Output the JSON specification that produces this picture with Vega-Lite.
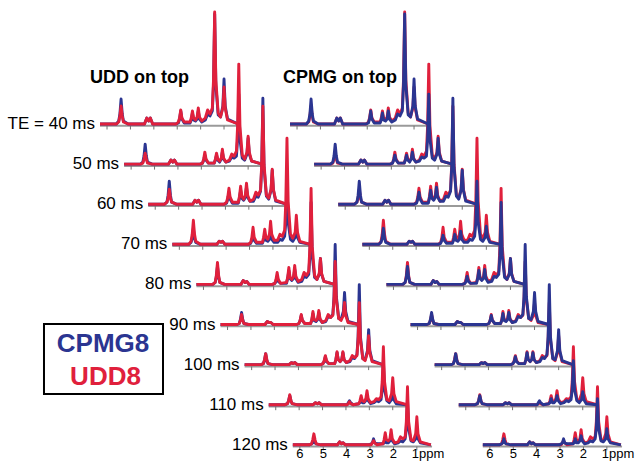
{
"$schema":"https://vega.github.io/schema/vega-lite/v6.json",
"width":635,"height":461,"padding":0,"autosize":"none","background":"white",
"config":{"view":{"stroke":null},"text":{"font":"Liberation Sans"}},
"datasets":{
"traces":[{"t":40,"label":"TE = 40 ms"},{"t":50,"label":"50 ms"},{"t":60,"label":"60 ms"},{"t":70,"label":"70 ms"},{"t":80,"label":"80 ms"},{"t":90,"label":"90 ms"},{"t":100,"label":"100 ms"},{"t":110,"label":"110 ms"},{"t":120,"label":"120 ms"}],
"ticks":[
{"t":40,"p":6},{"t":40,"p":5},{"t":40,"p":4},{"t":40,"p":3},{"t":40,"p":2},{"t":40,"p":1},
{"t":50,"p":6},{"t":50,"p":5},{"t":50,"p":4},{"t":50,"p":3},{"t":50,"p":2},{"t":50,"p":1},
{"t":60,"p":6},{"t":60,"p":5},{"t":60,"p":4},{"t":60,"p":3},{"t":60,"p":2},{"t":60,"p":1},
{"t":70,"p":6},{"t":70,"p":5},{"t":70,"p":4},{"t":70,"p":3},{"t":70,"p":2},{"t":70,"p":1},
{"t":80,"p":6},{"t":80,"p":5},{"t":80,"p":4},{"t":80,"p":3},{"t":80,"p":2},{"t":80,"p":1},
{"t":90,"p":6},{"t":90,"p":5},{"t":90,"p":4},{"t":90,"p":3},{"t":90,"p":2},{"t":90,"p":1},
{"t":100,"p":6},{"t":100,"p":5},{"t":100,"p":4},{"t":100,"p":3},{"t":100,"p":2},{"t":100,"p":1},
{"t":110,"p":6},{"t":110,"p":5},{"t":110,"p":4},{"t":110,"p":3},{"t":110,"p":2},{"t":110,"p":1},
{"t":120,"p":6},{"t":120,"p":5},{"t":120,"p":4},{"t":120,"p":3},{"t":120,"p":2},{"t":120,"p":1}],
"spec":[
{"t":40,"p":6.3,"c":0,"u":0},{"t":40,"p":5.6,"c":0,"u":0},{"t":40,"p":5.5,"c":3,"u":2},{"t":40,"p":5.45,"c":10,"u":8},{"t":40,"p":5.4,"c":25,"u":18},{"t":40,"p":5.35,"c":10,"u":8},{"t":40,"p":5.3,"c":3,"u":2},{"t":40,"p":5.1,"c":0,"u":0},{"t":40,"p":4.4,"c":0,"u":0},{"t":40,"p":4.3,"c":6,"u":6},{"t":40,"p":4.22,"c":3,"u":3},{"t":40,"p":4.15,"c":6,"u":6},{"t":40,"p":4.05,"c":0,"u":0},{"t":40,"p":3.05,"c":0,"u":0},{"t":40,"p":2.95,"c":1,"u":2},{"t":40,"p":2.9,"c":5,"u":6},{"t":40,"p":2.85,"c":13,"u":14},{"t":40,"p":2.8,"c":5,"u":6},{"t":40,"p":2.7,"c":1,"u":2},{"t":40,"p":2.45,"c":1,"u":2},{"t":40,"p":2.4,"c":4,"u":6},{"t":40,"p":2.35,"c":11,"u":13},{"t":40,"p":2.3,"c":4,"u":6},{"t":40,"p":2.22,"c":3,"u":4},{"t":40,"p":2.15,"c":5,"u":7},{"t":40,"p":2.1,"c":13,"u":16},{"t":40,"p":2.05,"c":5,"u":7},{"t":40,"p":1.95,"c":2,"u":3},{"t":40,"p":1.8,"c":4,"u":6},{"t":40,"p":1.7,"c":10,"u":14},{"t":40,"p":1.6,"c":8,"u":10},{"t":40,"p":1.5,"c":13,"u":16},{"t":40,"p":1.45,"c":39,"u":44},{"t":40,"p":1.4,"c":110,"u":112},{"t":40,"p":1.35,"c":39,"u":44},{"t":40,"p":1.25,"c":9,"u":11},{"t":40,"p":1.15,"c":7,"u":7},{"t":40,"p":1.05,"c":18,"u":16},{"t":40,"p":1.0,"c":45,"u":37},{"t":40,"p":0.95,"c":18,"u":16},{"t":40,"p":0.85,"c":5,"u":4},{"t":40,"p":0.4,"c":0,"u":0},
{"t":50,"p":6.3,"c":0,"u":0},{"t":50,"p":5.6,"c":0,"u":0},{"t":50,"p":5.5,"c":2,"u":1},{"t":50,"p":5.45,"c":8,"u":5},{"t":50,"p":5.4,"c":20,"u":11},{"t":50,"p":5.35,"c":8,"u":5},{"t":50,"p":5.3,"c":2,"u":1},{"t":50,"p":5.1,"c":0,"u":0},{"t":50,"p":4.4,"c":0,"u":0},{"t":50,"p":4.3,"c":4,"u":4},{"t":50,"p":4.22,"c":2,"u":2},{"t":50,"p":4.15,"c":4,"u":4},{"t":50,"p":4.05,"c":0,"u":0},{"t":50,"p":3.05,"c":0,"u":0},{"t":50,"p":2.95,"c":1,"u":1},{"t":50,"p":2.9,"c":4,"u":5},{"t":50,"p":2.85,"c":9,"u":12},{"t":50,"p":2.8,"c":4,"u":5},{"t":50,"p":2.7,"c":1,"u":1},{"t":50,"p":2.45,"c":1,"u":1},{"t":50,"p":2.4,"c":4,"u":5},{"t":50,"p":2.35,"c":9,"u":11},{"t":50,"p":2.3,"c":4,"u":5},{"t":50,"p":2.22,"c":2,"u":3},{"t":50,"p":2.15,"c":5,"u":6},{"t":50,"p":2.1,"c":12,"u":15},{"t":50,"p":2.05,"c":5,"u":6},{"t":50,"p":1.95,"c":2,"u":2},{"t":50,"p":1.8,"c":3,"u":4},{"t":50,"p":1.7,"c":7,"u":10},{"t":50,"p":1.6,"c":6,"u":8},{"t":50,"p":1.5,"c":8,"u":13},{"t":50,"p":1.45,"c":25,"u":38},{"t":50,"p":1.4,"c":70,"u":100},{"t":50,"p":1.35,"c":25,"u":38},{"t":50,"p":1.25,"c":6,"u":9},{"t":50,"p":1.15,"c":4,"u":5},{"t":50,"p":1.05,"c":10,"u":12},{"t":50,"p":1.0,"c":26,"u":28},{"t":50,"p":0.95,"c":10,"u":12},{"t":50,"p":0.85,"c":3,"u":3},{"t":50,"p":0.4,"c":0,"u":0},
{"t":60,"p":6.3,"c":0,"u":0},{"t":60,"p":5.6,"c":0,"u":0},{"t":60,"p":5.5,"c":2,"u":2},{"t":60,"p":5.45,"c":9,"u":6},{"t":60,"p":5.4,"c":23,"u":15},{"t":60,"p":5.35,"c":9,"u":6},{"t":60,"p":5.3,"c":2,"u":2},{"t":60,"p":5.1,"c":0,"u":0},{"t":60,"p":4.4,"c":0,"u":0},{"t":60,"p":4.3,"c":4,"u":4},{"t":60,"p":4.22,"c":2,"u":2},{"t":60,"p":4.15,"c":4,"u":4},{"t":60,"p":4.05,"c":0,"u":0},{"t":60,"p":3.05,"c":0,"u":0},{"t":60,"p":2.95,"c":1,"u":2},{"t":60,"p":2.9,"c":5,"u":7},{"t":60,"p":2.85,"c":12,"u":16},{"t":60,"p":2.8,"c":5,"u":7},{"t":60,"p":2.7,"c":1,"u":2},{"t":60,"p":2.45,"c":1,"u":2},{"t":60,"p":2.4,"c":6,"u":8},{"t":60,"p":2.35,"c":14,"u":18},{"t":60,"p":2.3,"c":6,"u":8},{"t":60,"p":2.22,"c":4,"u":5},{"t":60,"p":2.15,"c":7,"u":9},{"t":60,"p":2.1,"c":17,"u":21},{"t":60,"p":2.05,"c":7,"u":9},{"t":60,"p":1.95,"c":3,"u":3},{"t":60,"p":1.8,"c":3,"u":5},{"t":60,"p":1.7,"c":8,"u":12},{"t":60,"p":1.6,"c":7,"u":9},{"t":60,"p":1.5,"c":13,"u":14},{"t":60,"p":1.45,"c":37,"u":40},{"t":60,"p":1.4,"c":106,"u":98},{"t":60,"p":1.35,"c":37,"u":40},{"t":60,"p":1.25,"c":8,"u":9},{"t":60,"p":1.15,"c":5,"u":6},{"t":60,"p":1.05,"c":14,"u":15},{"t":60,"p":1.0,"c":34,"u":35},{"t":60,"p":0.95,"c":14,"u":15},{"t":60,"p":0.85,"c":3,"u":4},{"t":60,"p":0.4,"c":0,"u":0},
{"t":70,"p":6.3,"c":0,"u":0},{"t":70,"p":5.6,"c":0,"u":0},{"t":70,"p":5.5,"c":2,"u":3},{"t":70,"p":5.45,"c":6,"u":10},{"t":70,"p":5.4,"c":16,"u":24},{"t":70,"p":5.35,"c":6,"u":10},{"t":70,"p":5.3,"c":2,"u":3},{"t":70,"p":5.1,"c":0,"u":0},{"t":70,"p":4.4,"c":0,"u":0},{"t":70,"p":4.3,"c":3,"u":3},{"t":70,"p":4.22,"c":2,"u":2},{"t":70,"p":4.15,"c":3,"u":3},{"t":70,"p":4.05,"c":0,"u":0},{"t":70,"p":3.05,"c":0,"u":0},{"t":70,"p":2.95,"c":1,"u":2},{"t":70,"p":2.9,"c":4,"u":7},{"t":70,"p":2.85,"c":9,"u":17},{"t":70,"p":2.8,"c":4,"u":7},{"t":70,"p":2.7,"c":1,"u":2},{"t":70,"p":2.45,"c":1,"u":2},{"t":70,"p":2.4,"c":4,"u":7},{"t":70,"p":2.35,"c":10,"u":15},{"t":70,"p":2.3,"c":4,"u":7},{"t":70,"p":2.22,"c":3,"u":5},{"t":70,"p":2.15,"c":5,"u":10},{"t":70,"p":2.1,"c":13,"u":23},{"t":70,"p":2.05,"c":5,"u":10},{"t":70,"p":1.95,"c":2,"u":4},{"t":70,"p":1.8,"c":2,"u":4},{"t":70,"p":1.7,"c":5,"u":10},{"t":70,"p":1.6,"c":4,"u":8},{"t":70,"p":1.5,"c":8,"u":14},{"t":70,"p":1.45,"c":22,"u":43},{"t":70,"p":1.4,"c":63,"u":106},{"t":70,"p":1.35,"c":22,"u":43},{"t":70,"p":1.25,"c":5,"u":10},{"t":70,"p":1.15,"c":3,"u":6},{"t":70,"p":1.05,"c":7,"u":12},{"t":70,"p":1.0,"c":18,"u":29},{"t":70,"p":0.95,"c":7,"u":12},{"t":70,"p":0.85,"c":2,"u":3},{"t":70,"p":0.4,"c":0,"u":0},
{"t":80,"p":6.3,"c":0,"u":0},{"t":80,"p":5.6,"c":0,"u":0},{"t":80,"p":5.5,"c":2,"u":2},{"t":80,"p":5.45,"c":7,"u":9},{"t":80,"p":5.4,"c":18,"u":22},{"t":80,"p":5.35,"c":7,"u":9},{"t":80,"p":5.3,"c":2,"u":2},{"t":80,"p":5.1,"c":0,"u":0},{"t":80,"p":4.4,"c":0,"u":0},{"t":80,"p":4.3,"c":4,"u":4},{"t":80,"p":4.22,"c":2,"u":2},{"t":80,"p":4.15,"c":3,"u":3},{"t":80,"p":4.05,"c":0,"u":0},{"t":80,"p":3.05,"c":0,"u":0},{"t":80,"p":2.95,"c":1,"u":1},{"t":80,"p":2.9,"c":3,"u":5},{"t":80,"p":2.85,"c":8,"u":12},{"t":80,"p":2.8,"c":3,"u":5},{"t":80,"p":2.7,"c":1,"u":1},{"t":80,"p":2.45,"c":1,"u":2},{"t":80,"p":2.4,"c":6,"u":7},{"t":80,"p":2.35,"c":14,"u":17},{"t":80,"p":2.3,"c":6,"u":7},{"t":80,"p":2.22,"c":4,"u":5},{"t":80,"p":2.15,"c":6,"u":8},{"t":80,"p":2.1,"c":15,"u":19},{"t":80,"p":2.05,"c":6,"u":8},{"t":80,"p":1.95,"c":2,"u":3},{"t":80,"p":1.8,"c":3,"u":5},{"t":80,"p":1.7,"c":8,"u":12},{"t":80,"p":1.6,"c":7,"u":9},{"t":80,"p":1.5,"c":10,"u":13},{"t":80,"p":1.45,"c":29,"u":38},{"t":80,"p":1.4,"c":82,"u":96},{"t":80,"p":1.35,"c":29,"u":38},{"t":80,"p":1.25,"c":7,"u":9},{"t":80,"p":1.15,"c":5,"u":5},{"t":80,"p":1.05,"c":10,"u":11},{"t":80,"p":1.0,"c":26,"u":26},{"t":80,"p":0.95,"c":10,"u":11},{"t":80,"p":0.85,"c":3,"u":3},{"t":80,"p":0.4,"c":0,"u":0},
{"t":90,"p":6.3,"c":0,"u":0},{"t":90,"p":5.6,"c":0,"u":0},{"t":90,"p":5.5,"c":1,"u":1},{"t":90,"p":5.45,"c":5,"u":4},{"t":90,"p":5.4,"c":12,"u":10},{"t":90,"p":5.35,"c":5,"u":4},{"t":90,"p":5.3,"c":1,"u":1},{"t":90,"p":5.1,"c":0,"u":0},{"t":90,"p":4.4,"c":0,"u":0},{"t":90,"p":4.3,"c":3,"u":3},{"t":90,"p":4.22,"c":2,"u":2},{"t":90,"p":4.15,"c":2,"u":2},{"t":90,"p":4.05,"c":0,"u":0},{"t":90,"p":3.05,"c":0,"u":0},{"t":90,"p":2.95,"c":1,"u":1},{"t":90,"p":2.9,"c":4,"u":4},{"t":90,"p":2.85,"c":9,"u":10},{"t":90,"p":2.8,"c":4,"u":4},{"t":90,"p":2.7,"c":1,"u":1},{"t":90,"p":2.45,"c":1,"u":1},{"t":90,"p":2.4,"c":4,"u":5},{"t":90,"p":2.35,"c":11,"u":13},{"t":90,"p":2.3,"c":4,"u":5},{"t":90,"p":2.22,"c":3,"u":4},{"t":90,"p":2.15,"c":5,"u":6},{"t":90,"p":2.1,"c":12,"u":14},{"t":90,"p":2.05,"c":5,"u":6},{"t":90,"p":1.95,"c":2,"u":2},{"t":90,"p":1.8,"c":3,"u":4},{"t":90,"p":1.7,"c":8,"u":10},{"t":90,"p":1.6,"c":7,"u":7},{"t":90,"p":1.5,"c":10,"u":9},{"t":90,"p":1.45,"c":28,"u":25},{"t":90,"p":1.4,"c":80,"u":63},{"t":90,"p":1.35,"c":28,"u":25},{"t":90,"p":1.25,"c":6,"u":6},{"t":90,"p":1.15,"c":5,"u":4},{"t":90,"p":1.05,"c":13,"u":9},{"t":90,"p":1.0,"c":32,"u":22},{"t":90,"p":0.95,"c":13,"u":9},{"t":90,"p":0.85,"c":3,"u":2},{"t":90,"p":0.4,"c":0,"u":0},
{"t":100,"p":6.3,"c":0,"u":0},{"t":100,"p":5.6,"c":0,"u":0},{"t":100,"p":5.5,"c":1,"u":1},{"t":100,"p":5.45,"c":4,"u":5},{"t":100,"p":5.4,"c":11,"u":11},{"t":100,"p":5.35,"c":4,"u":5},{"t":100,"p":5.3,"c":1,"u":1},{"t":100,"p":5.1,"c":0,"u":0},{"t":100,"p":4.4,"c":0,"u":0},{"t":100,"p":4.3,"c":2,"u":2},{"t":100,"p":4.22,"c":1,"u":1},{"t":100,"p":4.15,"c":2,"u":2},{"t":100,"p":4.05,"c":0,"u":0},{"t":100,"p":3.05,"c":0,"u":0},{"t":100,"p":2.95,"c":1,"u":1},{"t":100,"p":2.9,"c":3,"u":4},{"t":100,"p":2.85,"c":8,"u":9},{"t":100,"p":2.8,"c":3,"u":4},{"t":100,"p":2.7,"c":1,"u":1},{"t":100,"p":2.45,"c":1,"u":1},{"t":100,"p":2.4,"c":5,"u":5},{"t":100,"p":2.35,"c":12,"u":13},{"t":100,"p":2.3,"c":5,"u":5},{"t":100,"p":2.22,"c":3,"u":3},{"t":100,"p":2.15,"c":5,"u":5},{"t":100,"p":2.1,"c":12,"u":13},{"t":100,"p":2.05,"c":5,"u":5},{"t":100,"p":1.95,"c":2,"u":2},{"t":100,"p":1.8,"c":3,"u":4},{"t":100,"p":1.7,"c":7,"u":9},{"t":100,"p":1.6,"c":6,"u":7},{"t":100,"p":1.5,"c":10,"u":9},{"t":100,"p":1.45,"c":28,"u":25},{"t":100,"p":1.4,"c":80,"u":62},{"t":100,"p":1.35,"c":28,"u":25},{"t":100,"p":1.25,"c":6,"u":6},{"t":100,"p":1.15,"c":5,"u":4},{"t":100,"p":1.05,"c":14,"u":12},{"t":100,"p":1.0,"c":35,"u":29},{"t":100,"p":0.95,"c":14,"u":12},{"t":100,"p":0.85,"c":4,"u":3},{"t":100,"p":0.4,"c":0,"u":0},
{"t":110,"p":6.3,"c":0,"u":0},{"t":110,"p":5.6,"c":0,"u":0},{"t":110,"p":5.5,"c":1,"u":1},{"t":110,"p":5.45,"c":4,"u":4},{"t":110,"p":5.4,"c":9,"u":10},{"t":110,"p":5.35,"c":4,"u":4},{"t":110,"p":5.3,"c":1,"u":1},{"t":110,"p":5.1,"c":0,"u":0},{"t":110,"p":4.4,"c":0,"u":0},{"t":110,"p":4.3,"c":2,"u":2},{"t":110,"p":4.22,"c":1,"u":1},{"t":110,"p":4.15,"c":2,"u":2},{"t":110,"p":4.05,"c":0,"u":0},{"t":110,"p":3.05,"c":0,"u":0},{"t":110,"p":2.95,"c":0,"u":0},{"t":110,"p":2.9,"c":2,"u":1},{"t":110,"p":2.85,"c":4,"u":3},{"t":110,"p":2.8,"c":2,"u":1},{"t":110,"p":2.7,"c":0,"u":0},{"t":110,"p":2.45,"c":1,"u":1},{"t":110,"p":2.4,"c":2,"u":4},{"t":110,"p":2.35,"c":6,"u":9},{"t":110,"p":2.3,"c":2,"u":4},{"t":110,"p":2.22,"c":2,"u":3},{"t":110,"p":2.15,"c":4,"u":6},{"t":110,"p":2.1,"c":9,"u":14},{"t":110,"p":2.05,"c":4,"u":6},{"t":110,"p":1.95,"c":1,"u":2},{"t":110,"p":1.8,"c":2,"u":3},{"t":110,"p":1.7,"c":4,"u":6},{"t":110,"p":1.6,"c":3,"u":5},{"t":110,"p":1.5,"c":5,"u":8},{"t":110,"p":1.45,"c":15,"u":23},{"t":110,"p":1.4,"c":44,"u":58},{"t":110,"p":1.35,"c":15,"u":23},{"t":110,"p":1.25,"c":4,"u":5},{"t":110,"p":1.15,"c":2,"u":4},{"t":110,"p":1.05,"c":5,"u":11},{"t":110,"p":1.0,"c":13,"u":27},{"t":110,"p":0.95,"c":5,"u":11},{"t":110,"p":0.85,"c":1,"u":3},{"t":110,"p":0.4,"c":0,"u":0},
{"t":120,"p":6.3,"c":0,"u":0},{"t":120,"p":5.6,"c":0,"u":0},{"t":120,"p":5.5,"c":1,"u":1},{"t":120,"p":5.45,"c":2,"u":5},{"t":120,"p":5.4,"c":6,"u":11},{"t":120,"p":5.35,"c":2,"u":5},{"t":120,"p":5.3,"c":1,"u":1},{"t":120,"p":5.1,"c":0,"u":0},{"t":120,"p":4.4,"c":0,"u":0},{"t":120,"p":4.3,"c":3,"u":3},{"t":120,"p":4.22,"c":1,"u":1},{"t":120,"p":4.15,"c":2,"u":2},{"t":120,"p":4.05,"c":0,"u":0},{"t":120,"p":3.05,"c":0,"u":0},{"t":120,"p":2.95,"c":1,"u":0},{"t":120,"p":2.9,"c":2,"u":2},{"t":120,"p":2.85,"c":6,"u":4},{"t":120,"p":2.8,"c":2,"u":2},{"t":120,"p":2.7,"c":1,"u":0},{"t":120,"p":2.45,"c":1,"u":1},{"t":120,"p":2.4,"c":2,"u":5},{"t":120,"p":2.35,"c":6,"u":12},{"t":120,"p":2.3,"c":2,"u":5},{"t":120,"p":2.22,"c":2,"u":4},{"t":120,"p":2.15,"c":4,"u":6},{"t":120,"p":2.1,"c":9,"u":15},{"t":120,"p":2.05,"c":4,"u":6},{"t":120,"p":1.95,"c":1,"u":2},{"t":120,"p":1.8,"c":2,"u":3},{"t":120,"p":1.7,"c":4,"u":8},{"t":120,"p":1.6,"c":3,"u":6},{"t":120,"p":1.5,"c":6,"u":8},{"t":120,"p":1.45,"c":16,"u":23},{"t":120,"p":1.4,"c":46,"u":58},{"t":120,"p":1.35,"c":16,"u":23},{"t":120,"p":1.25,"c":4,"u":5},{"t":120,"p":1.15,"c":3,"u":4},{"t":120,"p":1.05,"c":6,"u":11},{"t":120,"p":1.0,"c":16,"u":28},{"t":120,"p":0.95,"c":6,"u":11},{"t":120,"p":0.85,"c":2,"u":3},{"t":120,"p":0.4,"c":0,"u":0}
]},
"layer":[
{"data":{"name":"traces"},
 "transform":[{"calculate":"(datum.t-40)/10","as":"k"},{"calculate":"4.274+1.03*datum.k","as":"xa"},{"calculate":"10.224+1.03*datum.k","as":"xb"},{"calculate":"337-40.1*datum.k-1.8","as":"ya"}],
 "mark":{"type":"rule","color":"#9a9a9a","strokeWidth":2},
 "encoding":{"x":{"field":"xa","type":"quantitative","scale":{"domain":[0,27.137],"nice":false,"zero":false},"axis":null},"x2":{"field":"xb"},"y":{"field":"ya","type":"quantitative","scale":{"domain":[0,461],"nice":false,"zero":false},"axis":null}}},
{"data":{"name":"traces"},
 "transform":[{"calculate":"(datum.t-40)/10","as":"k"},{"calculate":"12.394+1.03*datum.k","as":"xa"},{"calculate":"18.344+1.03*datum.k","as":"xb"},{"calculate":"337-40.1*datum.k-1.8","as":"ya"}],
 "mark":{"type":"rule","color":"#9a9a9a","strokeWidth":2},
 "encoding":{"x":{"field":"xa","type":"quantitative","scale":{"domain":[0,27.137],"nice":false,"zero":false},"axis":null},"x2":{"field":"xb"},"y":{"field":"ya","type":"quantitative","scale":{"domain":[0,461],"nice":false,"zero":false},"axis":null}}},
{"data":{"name":"ticks"},
 "transform":[{"calculate":"(datum.t-40)/10","as":"k"},{"calculate":"10.574+1.03*datum.k-datum.p","as":"X"},{"calculate":"337-40.1*datum.k-1.8","as":"ya"},{"calculate":"337-40.1*datum.k-5.5","as":"yb"}],
 "mark":{"type":"rule","color":"#707070","strokeWidth":1},
 "encoding":{"x":{"field":"X","type":"quantitative","scale":{"domain":[0,27.137],"nice":false,"zero":false},"axis":null},"y":{"field":"ya","type":"quantitative","scale":{"domain":[0,461],"nice":false,"zero":false},"axis":null},"y2":{"field":"yb"}}},
{"data":{"name":"ticks"},
 "transform":[{"calculate":"(datum.t-40)/10","as":"k"},{"calculate":"18.694+1.03*datum.k-datum.p","as":"X"},{"calculate":"337-40.1*datum.k-1.8","as":"ya"},{"calculate":"337-40.1*datum.k-5.5","as":"yb"}],
 "mark":{"type":"rule","color":"#707070","strokeWidth":1},
 "encoding":{"x":{"field":"X","type":"quantitative","scale":{"domain":[0,27.137],"nice":false,"zero":false},"axis":null},"y":{"field":"ya","type":"quantitative","scale":{"domain":[0,461],"nice":false,"zero":false},"axis":null},"y2":{"field":"yb"}}},
{"data":{"name":"spec"},
 "transform":[{"calculate":"(datum.t-40)/10","as":"k"},{"calculate":"10.574+1.03*datum.k-datum.p","as":"X"},{"calculate":"337-40.1*datum.k+datum.c","as":"Y"}],
 "mark":{"type":"line","color":"#2b3591","strokeWidth":2.9,"strokeJoin":"round"},
 "encoding":{"x":{"field":"X","type":"quantitative","scale":{"domain":[0,27.137],"nice":false,"zero":false},"axis":null},"y":{"field":"Y","type":"quantitative","scale":{"domain":[0,461],"nice":false,"zero":false},"axis":null},"detail":{"field":"t"}}},
{"data":{"name":"spec"},
 "transform":[{"calculate":"(datum.t-40)/10","as":"k"},{"calculate":"10.574+1.03*datum.k-datum.p","as":"X"},{"calculate":"337-40.1*datum.k+datum.u","as":"Y"}],
 "mark":{"type":"line","color":"#e0203c","strokeWidth":2.9,"strokeJoin":"round"},
 "encoding":{"x":{"field":"X","type":"quantitative","scale":{"domain":[0,27.137],"nice":false,"zero":false},"axis":null},"y":{"field":"Y","type":"quantitative","scale":{"domain":[0,461],"nice":false,"zero":false},"axis":null},"detail":{"field":"t"}}},
{"data":{"name":"spec"},
 "transform":[{"calculate":"(datum.t-40)/10","as":"k"},{"calculate":"18.694+1.03*datum.k-datum.p","as":"X"},{"calculate":"337-40.1*datum.k+datum.u","as":"Y"}],
 "mark":{"type":"line","color":"#e0203c","strokeWidth":2.9,"strokeJoin":"round"},
 "encoding":{"x":{"field":"X","type":"quantitative","scale":{"domain":[0,27.137],"nice":false,"zero":false},"axis":null},"y":{"field":"Y","type":"quantitative","scale":{"domain":[0,461],"nice":false,"zero":false},"axis":null},"detail":{"field":"t"}}},
{"data":{"name":"spec"},
 "transform":[{"calculate":"(datum.t-40)/10","as":"k"},{"calculate":"18.694+1.03*datum.k-datum.p","as":"X"},{"calculate":"337-40.1*datum.k+datum.c","as":"Y"}],
 "mark":{"type":"line","color":"#2b3591","strokeWidth":2.9,"strokeJoin":"round"},
 "encoding":{"x":{"field":"X","type":"quantitative","scale":{"domain":[0,27.137],"nice":false,"zero":false},"axis":null},"y":{"field":"Y","type":"quantitative","scale":{"domain":[0,461],"nice":false,"zero":false},"axis":null},"detail":{"field":"t"}}},
{"data":{"name":"traces"},
 "transform":[{"calculate":"(datum.t-40)/10","as":"k"},{"calculate":"4.274+1.03*datum.k","as":"xa"},{"calculate":"337-40.1*datum.k","as":"ya"}],
 "mark":{"type":"text","align":"right","baseline":"alphabetic","dx":-5,"dy":5,"fontSize":17,"color":"black"},
 "encoding":{"x":{"field":"xa","type":"quantitative","scale":{"domain":[0,27.137],"nice":false,"zero":false},"axis":null},"y":{"field":"ya","type":"quantitative","scale":{"domain":[0,461],"nice":false,"zero":false},"axis":null},"text":{"field":"label"}}},
{"data":{"name":"ticks"},
 "transform":[{"filter":"datum.t == 120 && datum.p > 1"},{"calculate":"(datum.t-40)/10","as":"k"},{"calculate":"10.574+1.03*datum.k-datum.p","as":"X"},{"calculate":"337-40.1*datum.k","as":"ya"},{"calculate":"'' + datum.p","as":"lab"}],
 "mark":{"type":"text","align":"center","baseline":"alphabetic","dy":13,"fontSize":13,"color":"black"},
 "encoding":{"x":{"field":"X","type":"quantitative","scale":{"domain":[0,27.137],"nice":false,"zero":false},"axis":null},"y":{"field":"ya","type":"quantitative","scale":{"domain":[0,461],"nice":false,"zero":false},"axis":null},"text":{"field":"lab"}}},
{"data":{"name":"ticks"},
 "transform":[{"filter":"datum.t == 120 && datum.p > 1"},{"calculate":"(datum.t-40)/10","as":"k"},{"calculate":"18.694+1.03*datum.k-datum.p","as":"X"},{"calculate":"337-40.1*datum.k","as":"ya"},{"calculate":"'' + datum.p","as":"lab"}],
 "mark":{"type":"text","align":"center","baseline":"alphabetic","dy":13,"fontSize":13,"color":"black"},
 "encoding":{"x":{"field":"X","type":"quantitative","scale":{"domain":[0,27.137],"nice":false,"zero":false},"axis":null},"y":{"field":"ya","type":"quantitative","scale":{"domain":[0,461],"nice":false,"zero":false},"axis":null},"text":{"field":"lab"}}},
{"data":{"name":"ticks"},
 "transform":[{"filter":"datum.t == 120 && datum.p == 1"},{"calculate":"(datum.t-40)/10","as":"k"},{"calculate":"10.574+1.03*datum.k-datum.p","as":"X"},{"calculate":"337-40.1*datum.k","as":"ya"}],
 "mark":{"type":"text","align":"left","baseline":"alphabetic","dx":-5,"dy":13,"fontSize":13,"color":"black","text":"1ppm"},
 "encoding":{"x":{"field":"X","type":"quantitative","scale":{"domain":[0,27.137],"nice":false,"zero":false},"axis":null},"y":{"field":"ya","type":"quantitative","scale":{"domain":[0,461],"nice":false,"zero":false},"axis":null}}},
{"data":{"name":"ticks"},
 "transform":[{"filter":"datum.t == 120 && datum.p == 1"},{"calculate":"(datum.t-40)/10","as":"k"},{"calculate":"18.694+1.03*datum.k-datum.p","as":"X"},{"calculate":"337-40.1*datum.k","as":"ya"}],
 "mark":{"type":"text","align":"left","baseline":"alphabetic","dx":-5,"dy":13,"fontSize":13,"color":"black","text":"1ppm"},
 "encoding":{"x":{"field":"X","type":"quantitative","scale":{"domain":[0,27.137],"nice":false,"zero":false},"axis":null},"y":{"field":"ya","type":"quantitative","scale":{"domain":[0,461],"nice":false,"zero":false},"axis":null}}},
{"data":{"values":[{}]},
 "mark":{"type":"text","align":"left","baseline":"alphabetic","fontSize":18,"fontWeight":"bold","color":"black","text":"UDD on top"},
 "encoding":{"x":{"datum":3.846,"type":"quantitative","scale":{"domain":[0,27.137],"nice":false,"zero":false},"axis":null},"y":{"datum":378,"type":"quantitative","scale":{"domain":[0,461],"nice":false,"zero":false},"axis":null}}},
{"data":{"values":[{}]},
 "mark":{"type":"text","align":"left","baseline":"alphabetic","fontSize":18,"fontWeight":"bold","color":"black","text":"CPMG on top"},
 "encoding":{"x":{"datum":12.094,"type":"quantitative","scale":{"domain":[0,27.137],"nice":false,"zero":false},"axis":null},"y":{"datum":378,"type":"quantitative","scale":{"domain":[0,461],"nice":false,"zero":false},"axis":null}}},
{"data":{"values":[{}]},
 "mark":{"type":"rect","fill":"white","stroke":"black","strokeWidth":2},
 "encoding":{"x":{"datum":1.88,"type":"quantitative","scale":{"domain":[0,27.137],"nice":false,"zero":false},"axis":null},"x2":{"datum":6.966},"y":{"datum":137,"type":"quantitative","scale":{"domain":[0,461],"nice":false,"zero":false},"axis":null},"y2":{"datum":67}}},
{"data":{"values":[{}]},
 "mark":{"type":"text","align":"center","baseline":"alphabetic","fontSize":26,"fontWeight":"bold","color":"#2b3591","text":"CPMG8"},
 "encoding":{"x":{"datum":4.402,"type":"quantitative","scale":{"domain":[0,27.137],"nice":false,"zero":false},"axis":null},"y":{"datum":109,"type":"quantitative","scale":{"domain":[0,461],"nice":false,"zero":false},"axis":null}}},
{"data":{"values":[{}]},
 "mark":{"type":"text","align":"center","baseline":"alphabetic","fontSize":26,"fontWeight":"bold","color":"#e0203c","text":"UDD8"},
 "encoding":{"x":{"datum":4.509,"type":"quantitative","scale":{"domain":[0,27.137],"nice":false,"zero":false},"axis":null},"y":{"datum":76,"type":"quantitative","scale":{"domain":[0,461],"nice":false,"zero":false},"axis":null}}}
]
}
